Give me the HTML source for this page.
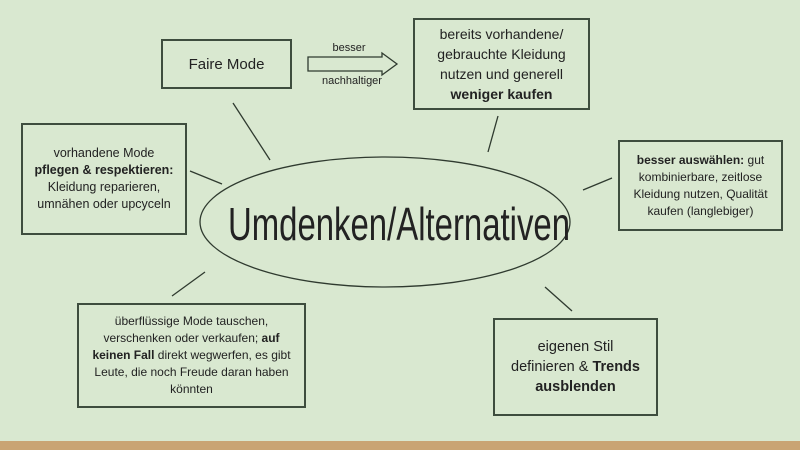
<!DOCTYPE html>
<html><head><meta charset="utf-8"><style>
body{margin:0;width:800px;height:450px;background:#d9e8d0;position:relative;overflow:hidden;font-family:"Liberation Sans",sans-serif;color:#222}
.b{position:absolute;border:2px solid #3e4d3e;box-sizing:border-box;display:flex;align-items:center;justify-content:center;text-align:center;font-size:12.5px;line-height:17px}
.b span{display:block}
.bar{position:absolute;left:0;top:441px;width:800px;height:9px;background:#c9a473}
</style></head><body>
<svg width="800" height="450" style="position:absolute;left:0;top:0">
<g stroke="#2f3a2f" stroke-width="1.3" fill="none">
<ellipse cx="385" cy="222" rx="185" ry="65"/>
<line x1="233" y1="103" x2="270" y2="160"/>
<line x1="190" y1="171" x2="222" y2="184"/>
<line x1="498" y1="116" x2="488" y2="152"/>
<line x1="583" y1="190" x2="612" y2="178"/>
<line x1="172" y1="296" x2="205" y2="272"/>
<line x1="545" y1="287" x2="572" y2="311"/>
<path d="M308 57 L382 57 L382 53 L397 64 L382 75 L382 71 L308 71 Z"/>
</g>
<text x="349" y="51" font-size="11" text-anchor="middle" fill="#222" font-family="Liberation Sans">besser</text>
<text x="352" y="84" font-size="11" text-anchor="middle" fill="#222" font-family="Liberation Sans">nachhaltiger</text>
<text x="399" y="240" font-size="46" text-anchor="middle" fill="#222" font-family="Liberation Sans Narrow, Liberation Sans" textLength="342" lengthAdjust="spacingAndGlyphs">Umdenken/Alternativen</text>
</svg>
<div class="b" style="left:161px;top:39px;width:131px;height:50px;font-size:15px"><span>Faire Mode</span></div>
<div class="b" style="left:413px;top:18px;width:177px;height:92px;font-size:14px;line-height:20px"><span>bereits vorhandene/<br>gebrauchte Kleidung<br>nutzen und generell<br><b>weniger kaufen</b></span></div>
<div class="b" style="left:21px;top:123px;width:166px;height:112px"><span>vorhandene Mode<br><b>pflegen &amp; respektieren:</b><br>Kleidung reparieren,<br>umnähen oder upcyceln</span></div>
<div class="b" style="left:618px;top:140px;width:165px;height:91px;font-size:12px"><span><b>besser auswählen:</b> gut kombinierbare, zeitlose Kleidung nutzen, Qualität kaufen (langlebiger)</span></div>
<div class="b" style="left:77px;top:303px;width:229px;height:105px;font-size:12px;padding:0 10px"><span>überflüssige Mode tauschen, verschenken oder verkaufen; <b>auf keinen Fall</b> direkt wegwerfen, es gibt Leute, die noch Freude daran haben könnten</span></div>
<div class="b" style="left:493px;top:318px;width:165px;height:98px;font-size:14.5px;line-height:20px"><span>eigenen Stil<br>definieren &amp; <b>Trends</b><br><b>ausblenden</b></span></div>
<div class="bar"></div>
</body></html>
